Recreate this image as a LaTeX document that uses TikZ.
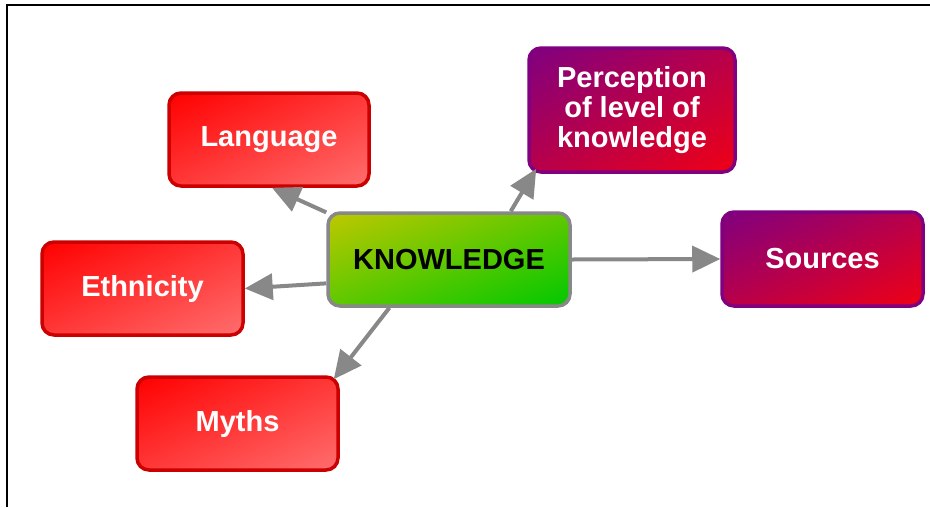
\documentclass[tikz,border=0pt]{standalone}
\usepackage{fontspec}
\setmainfont{Liberation Sans}
\usetikzlibrary{arrows.meta,calc,shadings}
\definecolor{redA}{RGB}{255,0,0}
\definecolor{redB}{RGB}{255,110,110}
\definecolor{redM}{RGB}{255,55,55}
\definecolor{redBorder}{RGB}{204,0,0}
\definecolor{purA}{RGB}{128,0,128}
\definecolor{purB}{RGB}{240,0,20}
\definecolor{purM}{RGB}{184,0,74}
\definecolor{grnA}{RGB}{190,200,0}
\definecolor{grnB}{RGB}{0,200,0}
\definecolor{grnM}{RGB}{95,200,0}
\definecolor{arrowgray}{RGB}{136,136,136}
\tikzset{
  box/.style={rounded corners=12pt, line width=3.5pt, inner sep=0pt, align=center,
    font=\bfseries\fontsize{29}{30}\selectfont},
  redbox/.style={box, draw=redBorder, text=white,
    upper left=redA, lower right=redB, upper right=redM, lower left=redM},
  purbox/.style={box, draw=purA, text=white,
    upper left=purA, lower right=purB, upper right=purM, lower left=purM},
  grnbox/.style={box, draw=arrowgray, text=black,
    upper left=grnA, lower right=grnB, upper right=grnM, lower left=grnM},
  conn/.style={draw=arrowgray, line width=4pt, -{Triangle[length=28pt,width=26pt]}}
}
\begin{document}
\begin{tikzpicture}[x=1pt,y=-1pt]
\useasboundingbox (0,0) rectangle (930,507);
\fill[white] (0,0) rectangle (930,507);
\draw[line width=2.5pt] (7,507) -- (7,5) -- (930,5);

\node[grnbox, minimum width=242pt, minimum height=93pt] (K) at (449,259.5) {KNOWLEDGE};
\node[redbox, minimum width=200pt, minimum height=93pt] (L) at (269,139.5) {Language};
\node[purbox, minimum width=206pt, minimum height=124pt] (P) at (632,110) {Perception\\of level of\\knowledge};
\node[purbox, minimum width=201pt, minimum height=94pt] (S) at (822.5,259) {Sources};
\node[redbox, minimum width=201pt, minimum height=93pt] (E) at (142.5,288.5) {Ethnicity};
\node[redbox, minimum width=201pt, minimum height=93pt] (M) at (237.5,423.5) {Myths};

\draw[conn] (K.159) -- ($(L.south)+(3,0)$);
\draw[conn] (K.191) -- (E.east);
\draw[conn] (K.219) -- ($(M.north east)+(-6,4)$);
\draw[conn] (K.38) -- ($(P.south west)+(9,-5)$);
\draw[conn] (K.east) -- (S.west);
\end{tikzpicture}
\end{document}
